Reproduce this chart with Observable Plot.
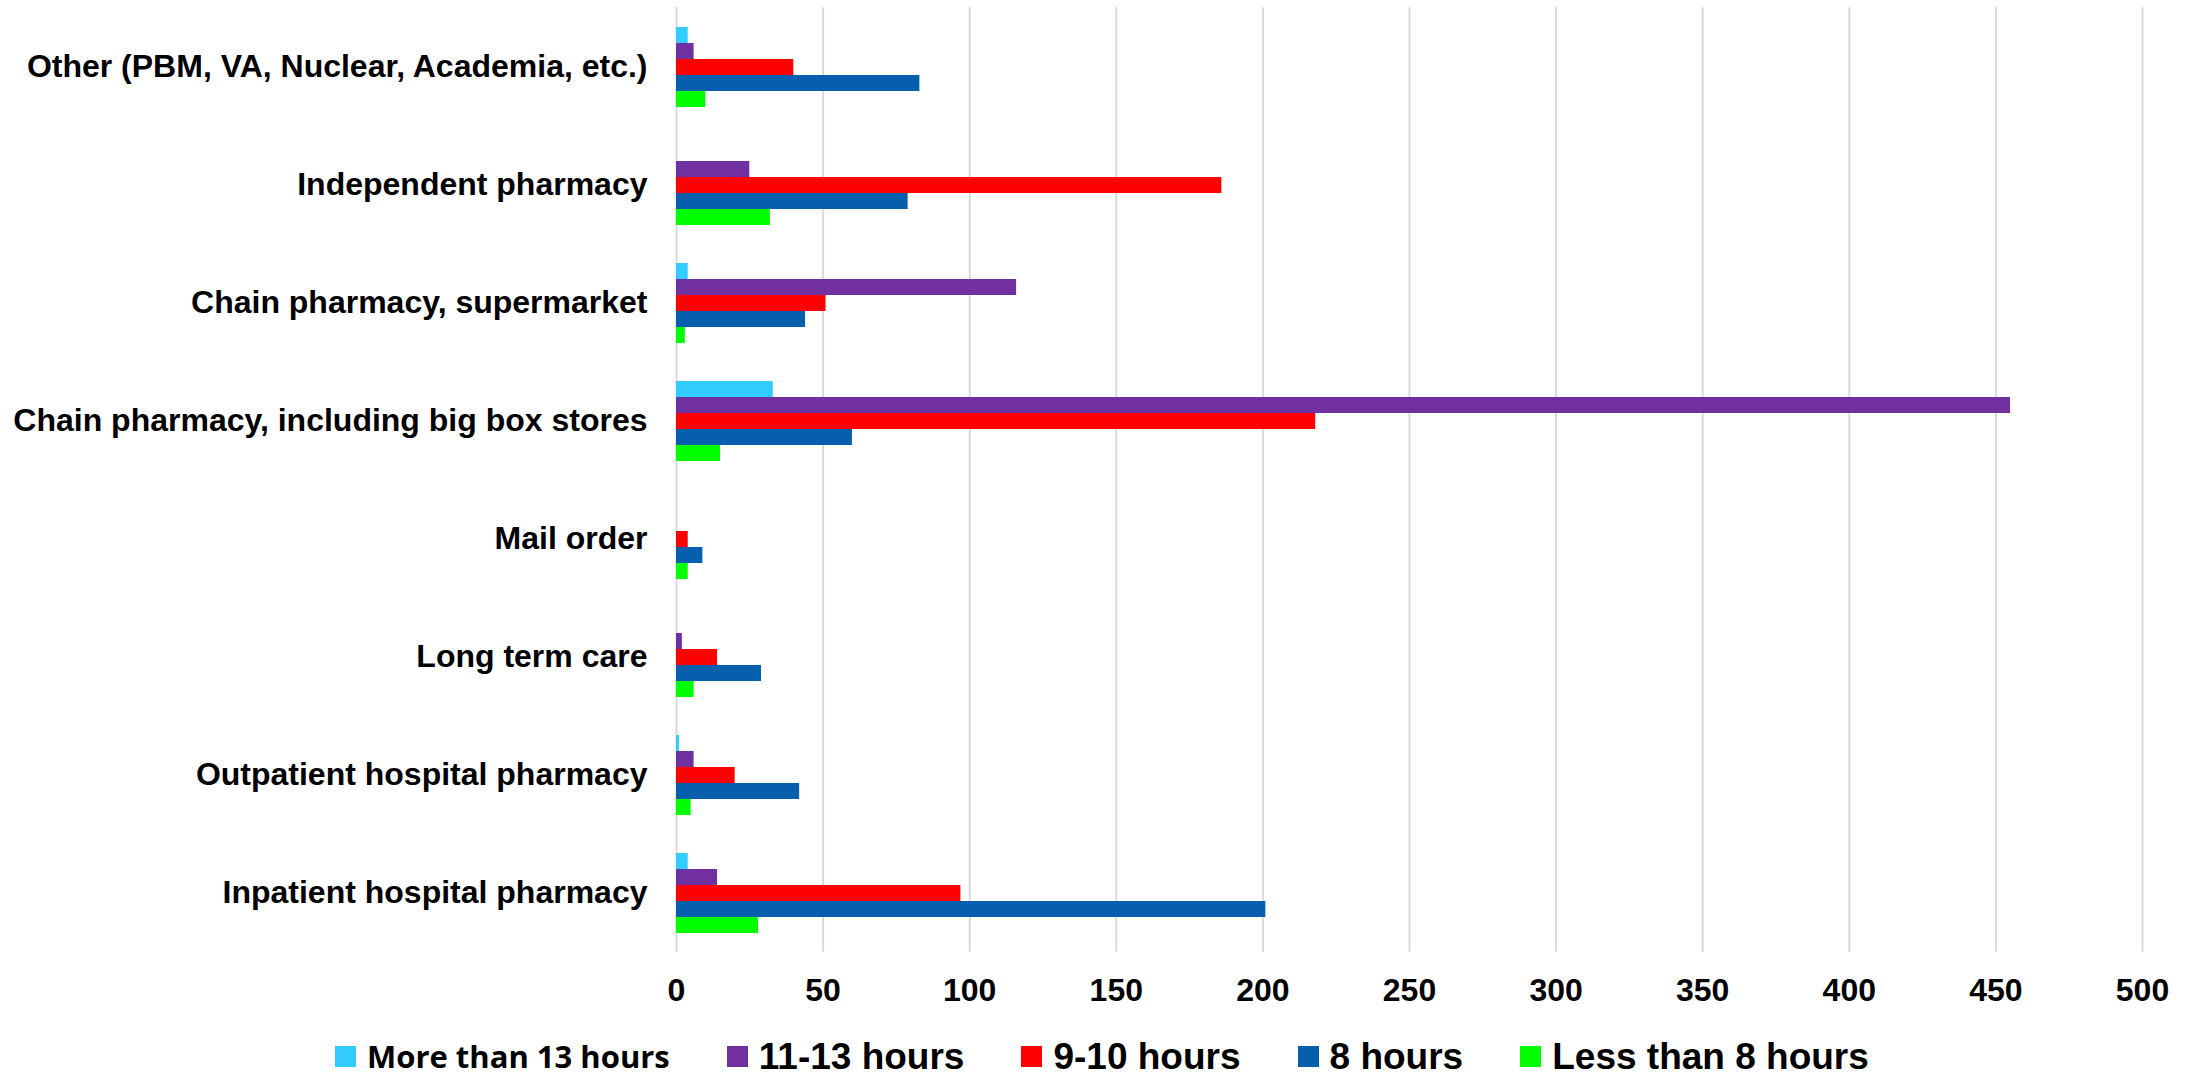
<!DOCTYPE html>
<html><head><meta charset="utf-8">
<script src="https://cdn.jsdelivr.net/npm/d3@7"></script>
<script src="https://cdn.jsdelivr.net/npm/@observablehq/plot@0.6"></script>
<style>
html,body{margin:0;padding:0;background:#fff;overflow:hidden}
#chart svg{display:block}
#legend{display:flex;align-items:center;height:33px;padding-left:335px;font-family:"Liberation Sans",Arial,sans-serif;font-weight:bold;font-size:37px;line-height:1;color:#000;white-space:nowrap}
#legend .item{display:flex;align-items:center;margin-right:57px}
#legend .sw{width:21px;height:21px;margin-right:11px;flex:none}
#legend span{line-height:1}
#legend .first{font-family:"Open Sans",sans-serif;font-size:31px}
</style></head><body><div id="chart"></div><div id="legend"></div>
<script>
const categories = [
  "Other (PBM, VA, Nuclear, Academia, etc.)",
  "Independent pharmacy",
  "Chain pharmacy, supermarket",
  "Chain pharmacy, including big box stores",
  "Mail order",
  "Long term care",
  "Outpatient hospital pharmacy",
  "Inpatient hospital pharmacy"
];
const seriesNames = ["More than 13 hours", "11-13 hours", "9-10 hours", "8 hours", "Less than 8 hours"];
const seriesColors = ["#33CCFF", "#7030A0", "#FF0000", "#055FAD", "#00FF00"];
const moreThan13 = [4, 0, 4, 33, 0, 0, 1, 4];
const hours11to13 = [6, 25, 116, 455, 0, 2, 6, 14];
const hours9to10 = [40, 186, 51, 218, 4, 14, 20, 97];
const hours8 = [83, 79, 44, 60, 9, 29, 42, 201];
const lessThan8 = [10, 32, 3, 15, 4, 6, 5, 28];
const xTicks = [0, 50, 100, 150, 200, 250, 300, 350, 400, 450, 500];

const seriesValues = [moreThan13, hours11to13, hours9to10, hours8, lessThan8];
const rows = [];
categories.forEach((c, i) => {
  seriesNames.forEach((s, j) => rows.push({category: c, series: s, value: seriesValues[j][i]}));
});

const W = 2187, H = 1040, mT = 5, mB = 86;
const padInner = 0.3, padOuter = 0.15;
const step = (H - mT - mB) / (categories.length - padInner + 2 * padOuter);
const halfGap = step * padInner / 2;

const chart = Plot.plot({
  width: W,
  height: H,
  marginLeft: 676,
  marginRight: 45,
  marginTop: mT,
  marginBottom: mB,
  style: {fontFamily: "'Liberation Sans', Arial, sans-serif", fontWeight: "bold", fontSize: "32px", color: "#000", background: "#fff"},
  x: {domain: [0, 500], ticks: xTicks, tickSize: 0, tickPadding: 44, label: null},
  fy: {domain: categories, paddingInner: padInner, paddingOuter: padOuter, label: null, tickSize: 0, tickPadding: 29},
  y: {domain: seriesNames, padding: 0, axis: null},
  color: {domain: seriesNames, range: seriesColors},
  marks: [
    Plot.ruleX(xTicks, {stroke: "#d9d9d9", strokeWidth: 2, insetTop: -halfGap, insetBottom: -halfGap}),
    Plot.barX(rows, {x: "value", y: "series", fy: "category", fill: "series"})
  ]
});
document.getElementById("chart").appendChild(chart);

const legend = document.getElementById("legend");
seriesNames.forEach((s, j) => {
  const item = document.createElement("div");
  item.className = "item";
  const sw = document.createElement("div");
  sw.className = "sw";
  sw.style.background = seriesColors[j];
  const t = document.createElement("span");
  t.textContent = s;
  if (j === 0) t.className = "first";
  item.appendChild(sw); item.appendChild(t);
  legend.appendChild(item);
});
</script></body></html>
